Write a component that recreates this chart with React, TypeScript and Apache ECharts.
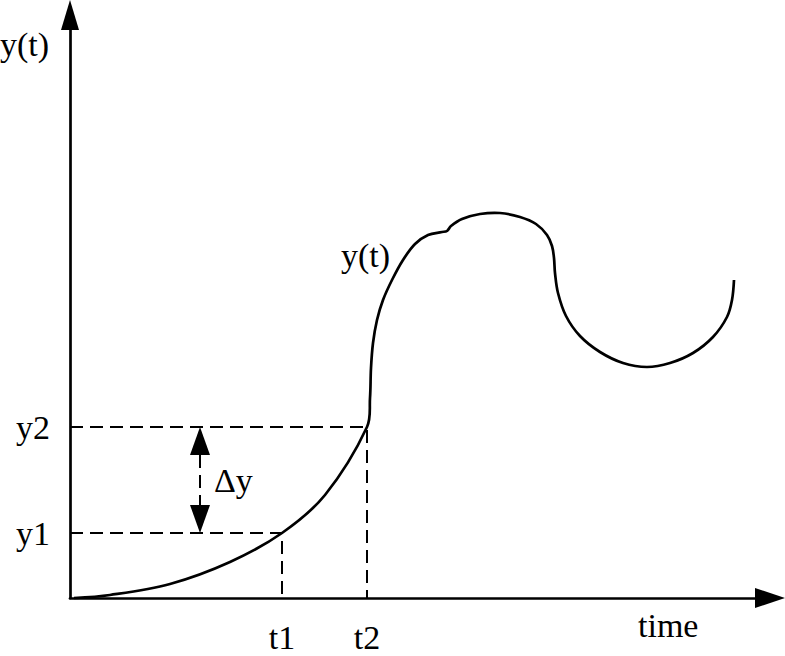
import React, { useEffect, useRef } from 'react';
import * as echarts from 'echarts';

// Response curve y(t) (time units, response units)
const timeValues = [4, 40, 100, 160, 212, 255, 297, 300, 301, 303, 307, 313, 322, 333, 345, 358, 372, 377, 381, 392, 410, 430, 450, 466, 477, 482, 484, 485, 488, 496, 510, 530, 553, 577, 600, 623, 643, 657, 662, 664];
const responseValues = [0, 3, 14, 36, 65, 103, 171, 200, 230, 255, 278, 298, 318, 338, 354, 363, 366, 367, 372, 379, 384, 385, 381, 374, 363, 352, 340, 325, 305, 282, 262, 246, 235, 231, 235, 245, 261, 281, 298, 318];

// Marked instants and their responses
const markTimes = [212, 297];
const markTimeLabels = ['t1', 't2'];
const markResponses = [65, 171];
const markResponseLabels = ['y1', 'y2'];

// Δy arrow: [time, from response, to response]
const deltaArrow = [[130, 65, 171]];

const FONT = '"Liberation Serif", "Times New Roman", serif';
const FS = 34;

export default function App() {
  const ref = useRef<HTMLDivElement>(null);
  useEffect(() => {
    if (!ref.current) return;
    const chart = echarts.init(ref.current, null, { renderer: 'svg' });
    const curve = timeValues.map((t, i) => [t, responseValues[i]]);
    const guides = markTimes.map((t, i) => ({
      type: 'line',
      data: [[0, markResponses[i]], [t, markResponses[i]], [t, 0]],
      symbol: 'none',
      silent: true,
      lineStyle: { color: '#000', width: 2, type: [13, 7] },
      z: 1,
    }));
    chart.setOption({
      animation: false,
      backgroundColor: '#fff',
      grid: { left: 70, right: 15, top: 15, bottom: 58 },
      xAxis: {
        type: 'value',
        min: 0,
        max: 700,
        splitLine: { show: false },
        axisTick: { show: false },
        axisLine: {
          show: true,
          symbol: ['none', 'triangle'],
          symbolSize: [20, 30],
          lineStyle: { color: '#000', width: 2.7 },
        },
        axisLabel: {
          customValues: markTimes,
          formatter: (v: number) => markTimeLabels[markTimes.indexOf(v)] ?? '',
          color: '#000',
          fontFamily: FONT,
          fontSize: FS,
          margin: 22,
        },
      },
      yAxis: {
        type: 'value',
        min: 0,
        max: 583,
        splitLine: { show: false },
        axisTick: { show: false },
        axisLine: {
          show: true,
          symbol: ['none', 'triangle'],
          symbolSize: [18, 30],
          lineStyle: { color: '#000', width: 2.7 },
        },
        axisLabel: {
          customValues: markResponses,
          formatter: (v: number) => markResponseLabels[markResponses.indexOf(v)] ?? '',
          color: '#000',
          fontFamily: FONT,
          fontSize: FS,
          margin: 20,
        },
      },
      graphic: [
        { type: 'text', left: 0, top: 27, style: { text: 'y(t)', font: `${FS}px ${FONT}`, fill: '#000' } },
        { type: 'text', left: 638, top: 608, style: { text: 'time', font: `${FS}px ${FONT}`, fill: '#000' } },
        { type: 'text', left: 341, top: 238, style: { text: 'y(t)', font: `${FS}px ${FONT}`, fill: '#000' } },
      ],
      series: [
        ...guides,
        {
          type: 'custom',
          data: curve,
          silent: true,
          z: 3,
          renderItem: (params: any, api: any) => {
            if (params.dataIndex !== 0) return null;
            const points = curve.map((p) => api.coord(p));
            return {
              type: 'polyline',
              shape: { points, smooth: 0.35 },
              style: { stroke: '#000', lineWidth: 2.7, fill: null },
            };
          },
        },
        {
          type: 'custom',
          data: deltaArrow,
          silent: true,
          z: 2,
          renderItem: (params: any, api: any) => {
            const x = api.value(0);
            const top = api.coord([x, api.value(2)]);
            const bot = api.coord([x, api.value(1)]);
            const headLen = 28;
            const halfW = 10;
            return {
              type: 'group',
              children: [
                { type: 'polygon', shape: { points: [[top[0], top[1]], [top[0] - halfW, top[1] + headLen], [top[0] + halfW, top[1] + headLen]] }, style: { fill: '#000' } },
                { type: 'polygon', shape: { points: [[bot[0], bot[1]], [bot[0] - halfW, bot[1] - headLen], [bot[0] + halfW, bot[1] - headLen]] }, style: { fill: '#000' } },
                { type: 'line', shape: { x1: top[0], y1: top[1] + headLen, x2: bot[0], y2: bot[1] - headLen }, style: { stroke: '#000', lineWidth: 2, lineDash: [13, 7] } },
                { type: 'text', x: top[0] + 14, y: (top[1] + bot[1]) / 2, style: { text: 'Δy', font: `${FS}px ${FONT}`, fill: '#000', verticalAlign: 'middle' } },
              ],
            };
          },
        },
      ],
    });
    return () => chart.dispose();
  }, []);
  return <div ref={ref} style={{ position: 'absolute', left: 0, top: 0, width: 785, height: 656 }} />;
}
